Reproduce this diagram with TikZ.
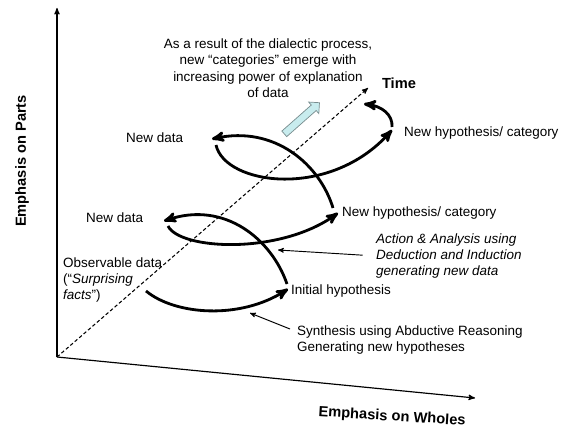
\documentclass[tikz,border=0pt]{standalone}
\usepackage{fontspec}
\setmainfont{Liberation Sans}
\usetikzlibrary{positioning,calc,arrows,shapes}
\definecolor{paleblue}{RGB}{200,236,238}
\definecolor{arrowgray}{RGB}{120,140,142}
\tikzset{
  auto,
  txt/.style={font=\fontsize{11.5}{14}\selectfont, inner sep=0pt},
  axislabel/.style={font=\fontsize{12.5}{15}\selectfont\bfseries, inner sep=0pt},
  axisline/.style={line width=1pt, ->},
  timeline/.style={line width=0.9pt, dash pattern=on 3pt off 2pt, ->},
  spiral/.style={line width=2.4pt, ->},
  pointer/.style={line width=0.8pt, ->}
}
\begin{document}
\begin{tikzpicture}[x=0.03cm, y=-0.03cm, >=stealth']
    \useasboundingbox (0,0) rectangle (565,433);
    % axes
    \coordinate (O) at (57,357);
    \coordinate (parts) at (57,8);
    \coordinate (wholes) at (475,398);
    \coordinate (time) at (368,88);
    \draw[axisline] (O) -- (parts);
    \draw[axisline] (O) -- (wholes);
    \draw[timeline] (O) -- (time);
    \node at (22,161) [axislabel, rotate=90] (partslab) {Emphasis on Parts};
    \node at (392,417) [axislabel, rotate=-3.5] (wholeslab) {Emphasis on Wholes};
    \node at (399,83) [axislabel] (timelab) {Time};

    % texts
    \node at (268,68) [txt, align=center] (result) {As a result of the dialectic process,\\new ``categories'' emerge with\\increasing power of explanation\\of data};
    \node at (126,138) [txt, anchor=west] (data2) {New data};
    \node at (86,218) [txt, anchor=west] (data1) {New data};
    \node at (63,280) [txt, anchor=west, align=left] (obs) {Observable data\\(``\textit{Surprising}\\\textit{facts}'')};
    \node at (291,291) [txt, anchor=west] (init) {Initial hypothesis};
    \node at (342,213) [txt, anchor=west] (hyp1) {New hypothesis/ category};
    \node at (404,133) [txt, anchor=west] (hyp2) {New hypothesis/ category};
    \node at (376,256) [txt, anchor=west, align=left, font=\fontsize{11.5}{14}\selectfont\itshape] (action) {Action \& Analysis using\\Deduction and Induction\\generating new data};
    \node at (297,340) [txt, anchor=west, align=left] (synth) {Synthesis using Abductive Reasoning\\Generating new hypotheses};

    % the spiral
    \coordinate (s0) at (146,291);
    \coordinate (h1) at (288,289);
    \coordinate (h1b) at (287,284);
    \coordinate (d1) at (164,221);
    \coordinate (d1b) at (168,226);
    \coordinate (h2) at (338,213);
    \coordinate (h2b) at (333,208);
    \coordinate (d2) at (212,139);
    \coordinate (d2b) at (216,145);
    \coordinate (h3) at (392,130);
    \coordinate (h3b) at (392,127);
    \coordinate (t3) at (364,104);
    \draw[spiral] (s0) .. controls (175,315) and (240,320) .. (h1);
    \draw[spiral] (h1b) .. controls (272,240) and (225,200) .. (d1);
    \draw[spiral] (d1b) .. controls (180,250) and (280,255) .. (h2);
    \draw[spiral] (h2b) .. controls (320,165) and (275,125) .. (d2);
    \draw[spiral] (d2b) .. controls (225,185) and (330,200) .. (h3);
    \draw[spiral] (h3b) .. controls (393,115) and (382,106) .. (t3);

    % pointers
    \coordinate (actpt) at (278,250);
    \coordinate (synpt) at (250,313);
    \draw[pointer, shorten <=4mm] (action.west) -- (actpt);
    \draw[pointer] ([shift={(-7,-11)}]synth.west) -- (synpt);

    % emerging categories
    \node at (300.5,119.5) [single arrow, draw=arrowgray, fill=paleblue, line width=0.6pt,
        minimum height=1.41cm, inner sep=0.1cm, single arrow head extend=0.12cm,
        single arrow head indent=0pt, rotate=41.5] (emerge) {};
\end{tikzpicture}
\end{document}
